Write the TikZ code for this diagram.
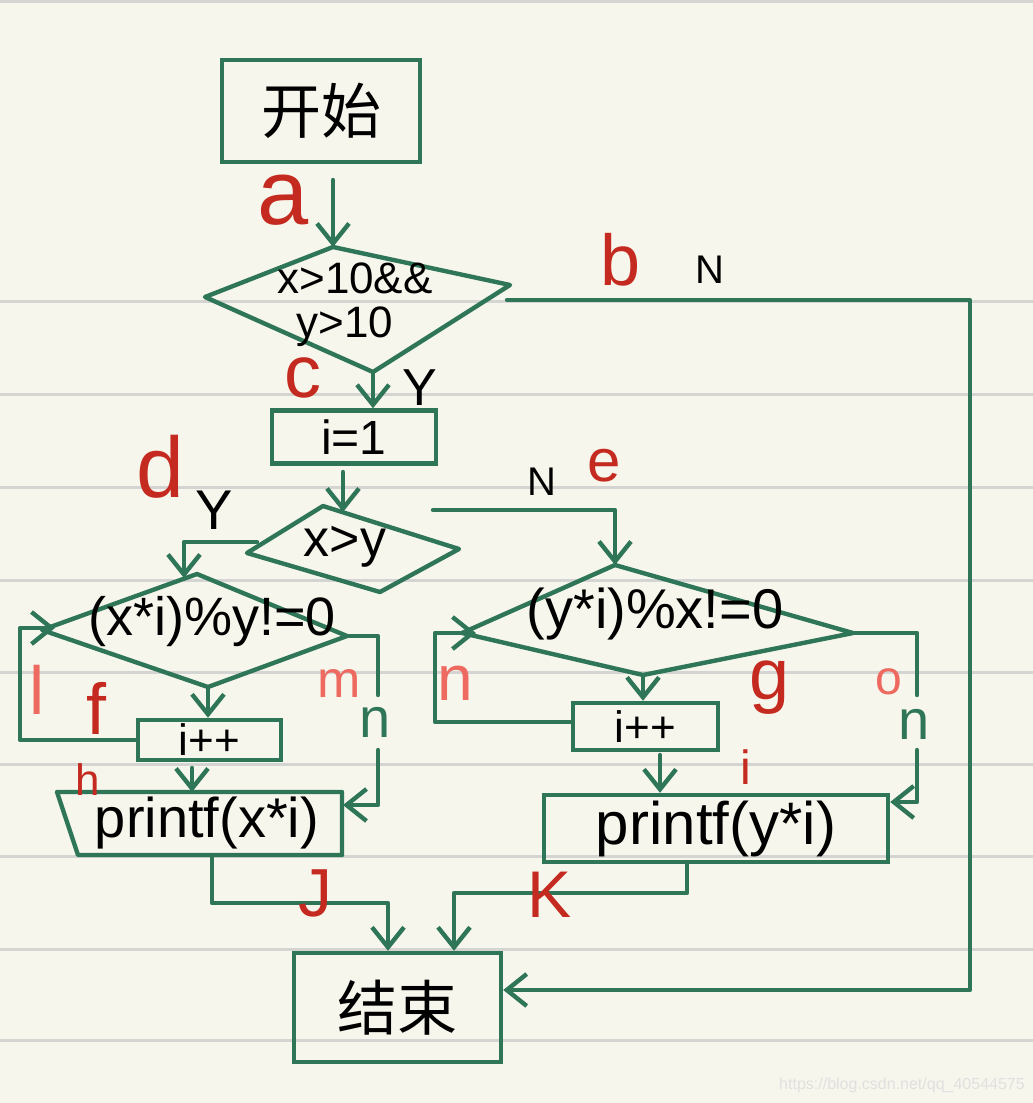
\documentclass[tikz,border=0pt]{standalone}
\usepackage{fontspec}
\setmainfont{Liberation Sans}
\newfontfamily\cjk{Noto Sans CJK SC}
\usetikzlibrary{arrows.meta,calc}
\definecolor{paper}{HTML}{F7F6EC}
\definecolor{ruleline}{HTML}{D4D4D2}
\definecolor{gr}{HTML}{2F7558}
\definecolor{rd}{HTML}{C42A1F}
\definecolor{pk}{HTML}{EE6A60}
\newcommand\fsz[1]{\fontsize{#1}{#1}\selectfont}
\begin{document}
\begin{tikzpicture}[x=0.5pt,y=-0.5pt,
 gline/.style={draw=gr,line width=2.2pt,line join=round,line cap=round},
 arr/.style={gline,-{Straight Barb[length=10pt,width=16pt,line width=2.2pt]}},
 gbox/.style={draw=gr,line width=2.2pt,inner sep=0pt},
 txt/.style={text=black,inner sep=0pt},
 lbr/.style={text=rd,inner sep=0pt},
 lbp/.style={text=pk,inner sep=0pt},
 lbk/.style={text=black,inner sep=0pt},
 lbg/.style={text=gr,inner sep=0pt},
]
\fill[paper] (0,0) rectangle (1033,1103);
\useasboundingbox (0,0) rectangle (1033,1103);
\foreach \yy in {1,301,394,487,580,672,764,856,949,1040}
  \draw[ruleline,line width=1.5pt] (0,\yy) -- (1033,\yy);

% start
\node[gbox,minimum width=99pt,minimum height=51pt] (start) at (321,111) {\cjk\fsz{30}开始};
\coordinate (a0) at (333,180);
% decision 1
\coordinate (d1L) at (205,297);
\coordinate (d1T) at (333,247);
\coordinate (d1R) at (510,285);
\coordinate (d1B) at (373,372);
\draw[gline] (d1L) -- (d1T) -- (d1R) -- (d1B) -- cycle;
\node[txt,font=\fsz{22}] (t1a) at (355,278) {x>10\&\&};
\node[txt,font=\fsz{22}] (t1b) at (345,327) {y>10};
\draw[arr] (a0) -- (d1T);

% i=1
\node[gbox,minimum width=82pt,minimum height=26.5pt] (i1) at (354,437) {\fsz{24}i=1};
\draw[arr] (d1B) -- (d1B |- i1.north);

% decision x>y
\coordinate (d2L) at (247,553);
\coordinate (d2T) at (323,506);
\coordinate (d2R) at (459,549);
\coordinate (d2B) at (380,592);
\draw[gline] (d2L) -- (d2T) -- (d2R) -- (d2B) -- cycle;
\node[txt,font=\fsz{26}] (t2) at (345,547) {x>y};
\coordinate (i1o) at (343,472);
\coordinate (d2in) at (343,512);
\draw[arr] (i1o) -- (d2in);

% decision (x*i)%y!=0
\coordinate (d3L) at (42,630);
\coordinate (d3T) at (197,574);
\coordinate (d3R) at (347,636);
\coordinate (d3B) at (208,687);
\draw[gline] (d3L) -- (d3T) -- (d3R) -- (d3B) -- cycle;
\node[txt,font=\fsz{27}] (t3) at (212,622) {(x*i)\%y!=0};

% decision (y*i)%x!=0
\coordinate (d4L) at (462,633);
\coordinate (d4T) at (615,565);
\coordinate (d4R) at (853,633);
\coordinate (d4B) at (643,675);
\draw[gline] (d4L) -- (d4T) -- (d4R) -- (d4B) -- cycle;
\node[txt,font=\fsz{28}] (t4) at (655,614) {(y*i)\%x!=0};

% Y branch of x>y
\coordinate (yb0) at (257,542);
\coordinate (yb1) at (184,542);
\coordinate (d3in) at (184,578);
\draw[arr] (yb0) -- (yb1) -- (d3in);
% N branch of x>y
\coordinate (nb0) at (433,510);
\draw[arr] (nb0) -- (nb0 -| d4T) -- (d4T);

% left i++
\node[gbox,minimum width=71.5pt,minimum height=20pt] (ipL) at (209.5,740) {\fsz{22}i++};
\draw[arr] (d3B) -- (d3B |- ipL.north);
\coordinate (l1) at (20,740);
\coordinate (l2) at (20,628);
\coordinate (d3Lin) at (55,628);
\draw[arr] (ipL.west) -- (l1) -- (l2) -- (d3Lin);

% printf(x*i)
\coordinate (pxTL) at (57,792);
\coordinate (pxTR) at (342,792);
\coordinate (pxBR) at (342,855);
\coordinate (pxBL) at (78,855);
\draw[gline] (pxTL) -- (pxTR) -- (pxBR) -- (pxBL) -- cycle;
\node[txt,font=\fsz{28}] (px) at (207,823) {printf(x*i)};
\coordinate (h0) at (192,768);
\draw[arr] (h0) -- (h0 |- pxTL);

% m branch
\coordinate (m1) at (378,636);
\coordinate (m2) at (378,695);
\coordinate (m3) at (378,750);
\coordinate (m4) at (378,805);
\coordinate (pxRin) at (343,805);
\draw[gline] (d3R) -- (m1) -- (m2);
\draw[arr] (m3) -- (m4) -- (pxRin);

% right i++
\node[gbox,minimum width=72.5pt,minimum height=23.5pt] (ipR) at (645.5,726.5) {\fsz{22}i++};
\draw[arr] (d4B) -- (d4B |- ipR.north);
\coordinate (n1) at (435,722);
\coordinate (n2) at (435,633);
\coordinate (d4Lin) at (476,633);
\draw[arr] (ipR.west |- n1) -- (n1) -- (n2) -- (d4Lin);

% printf(y*i)
\node[gbox,minimum width=172pt,minimum height=33.5pt] (py) at (716,828.5) {\fsz{30}printf(y*i)};
\coordinate (g0) at (660,755);
\draw[arr] (g0) -- (g0 |- py.north);

% o branch
\coordinate (o1) at (917,633);
\coordinate (o2) at (917,695);
\coordinate (o3) at (917,750);
\coordinate (o4) at (917,802);
\draw[gline] (d4R) -- (o1) -- (o2);
\draw[arr] (o3) -- (o4) -- (py.east |- o4);

% end
\node[gbox,minimum width=103.5pt,minimum height=54.5pt] (end) at (397.5,1007.5) {\cjk\fsz{30}结束};

% J path
\coordinate (j0) at (212,857);
\coordinate (j1) at (212,903);
\coordinate (j2) at (388,903);
\draw[arr] (j0) -- (j1) -- (j2) -- (j2 |- end.north);
% K path
\coordinate (k0) at (687,862);
\coordinate (k1) at (687,893);
\coordinate (k2) at (454,893);
\draw[arr] (k0) -- (k1) -- (k2) -- (k2 |- end.north);
% b path
\coordinate (b0) at (507,300);
\coordinate (b1) at (970,300);
\coordinate (b2) at (970,990);
\draw[arr] (b0) -- (b1) -- (b2) -- (end.east |- b2);

% labels
\node[lbr,font=\fsz{46}] (la) at (283,200) {a};
\node[lbr,font=\fsz{36}] (lb) at (621,260) {b};
\node[lbk,font=\fsz{20}] (lN1) at (710,270) {N};
\node[lbr,font=\fsz{37}] (lc) at (303,378) {c};
\node[lbk,font=\fsz{26}] (lY1) at (420,388) {Y};
\node[lbr,font=\fsz{43}] (ld) at (160,467) {d};
\node[lbk,font=\fsz{28}] (lY2) at (214,510) {Y};
\node[lbk,font=\fsz{20}] (lN2) at (542,482) {N};
\node[lbr,font=\fsz{30}] (le) at (604,466) {e};
\node[lbp,font=\fsz{34}] (ll) at (37,690) {l};
\node[lbr,font=\fsz{36}] (lf) at (97,708) {f};
\node[lbp,font=\fsz{26}] (lm) at (339,684) {m};
\node[lbg,font=\fsz{28}] (ln1) at (375,722) {n};
\node[lbr,font=\fsz{22}] (lh) at (88,780) {h};
\node[lbp,font=\fsz{32}] (ln2) at (455,683) {n};
\node[lbr,font=\fsz{36}] (lg) at (770,688) {g};
\node[lbp,font=\fsz{24}] (lo) at (889,682) {o};
\node[lbg,font=\fsz{28}] (ln3) at (914,724) {n};
\node[lbr,font=\fsz{24}] (li) at (746,767) {i};
\node[lbr,font=\fsz{34}] (lJ) at (315,893) {J};
\node[lbr,font=\fsz{33}] (lK) at (550,895) {K};

% watermark
\node[inner sep=0pt,font=\fsz{8},text=black!12] (wm) at (902,1085) {https://blog.csdn.net/qq\_40544575};
\end{tikzpicture}
\end{document}
